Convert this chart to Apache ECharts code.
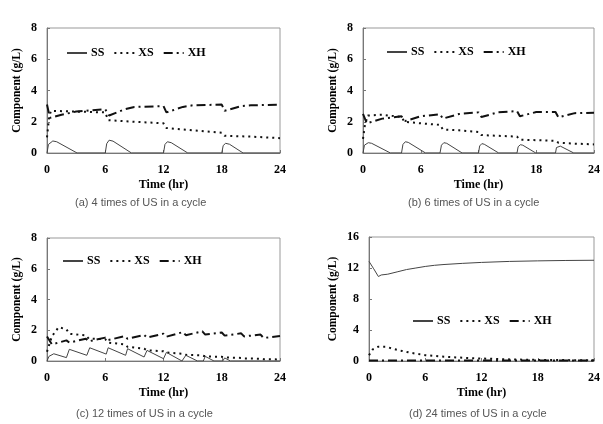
<!DOCTYPE html>
<html>
<head>
<meta charset="utf-8">
<script src="https://cdn.jsdelivr.net/npm/echarts@6/dist/echarts.min.js"></script>
<style>
  html, body { margin: 0; padding: 0; background: #fff; }
  #main { width: 603px; height: 424px; }
</style>
</head>
<body>
<div id="main"></div>
<script>
// 时间轴刻度 (hr)
var timeTicks = [0, 6, 12, 18, 24];
var seriesNames = ['SS', 'XS', 'XH'];
var captions = ['(a) 4 times of US in a cycle', '(b) 6 times of US in a cycle',
                '(c) 12 times of US in a cycle', '(d) 24 times of US in a cycle'];
var yMaxList = [8, 8, 8, 16];
var yStepList = [2, 2, 2, 4];

// (a) 4 times of US
var ssA = [[0,0],[0.15,0.55],[0.6,0.77],[1.0,0.72],[3.1,0],[6,0],[6.15,0.6],[6.4,0.82],[6.8,0.76],[8.7,0],
           [12,0],[12.15,0.55],[12.4,0.72],[12.8,0.66],[14.5,0],[18,0],[18.15,0.48],[18.4,0.62],[18.8,0.56],[20.2,0],[24,0]];
var xsA = [[0,1.0],[0.2,2.2],[0.4,2.7],[3,2.65],[6,2.6],[6.3,2.1],[9,2.0],[12,1.9],[12.3,1.6],
           [15,1.45],[18,1.3],[18.3,1.1],[21,1.05],[24,0.95]];
var xhA = [[0,3.1],[0.3,2.25],[1.5,2.45],[3,2.65],[6,2.8],[6.4,2.4],[8,2.8],[9,2.95],[12,3.0],[12.3,2.6],
           [14,2.95],[15,3.05],[18,3.1],[18.3,2.7],[20,3.0],[21,3.05],[24,3.1]];

// (b) 6 times of US
var ssB = [[0,0],[0.15,0.5],[0.55,0.66],[0.9,0.62],[2.85,0],[4,0],[4.15,0.55],[4.4,0.72],[4.7,0.68],[6.5,0],
           [8,0],[8.15,0.5],[8.4,0.66],[8.7,0.62],[10.3,0],[12,0],[12.12,0.45],[12.35,0.6],[12.6,0.56],[14.1,0],
           [16,0],[16.12,0.4],[16.35,0.53],[16.6,0.5],[17.95,0],[20,0],[20.1,0.35],[20.3,0.47],[20.5,0.44],[21.9,0],[24,0]];
var xsB = [[0,0.9],[0.2,1.8],[0.5,2.4],[2,2.45],[4,2.3],[4.3,2.0],[6,1.9],[8,1.8],[8.3,1.5],[10,1.45],
           [12,1.35],[12.3,1.15],[14,1.1],[16,1.05],[16.3,0.85],[18,0.82],[20,0.78],[20.3,0.66],[22,0.6],[24,0.55]];
var xhB = [[0,2.5],[0.4,1.9],[2,2.2],[4,2.35],[4.4,2.05],[6,2.35],[8,2.48],[8.3,2.2],[10,2.5],[12,2.6],
           [12.3,2.3],[14,2.6],[16,2.68],[16.3,2.35],[18,2.62],[20,2.62],[20.3,2.28],[22,2.55],[24,2.58]];

// (c) 12 times of US
var ssC = [[0,0],[0.2,0.3],[0.7,0.47],[2.0,0.22],[2.3,0.76],[4.1,0.37],[4.4,0.86],[6.1,0.45],[6.3,0.86],
           [8.1,0.37],[8.3,0.8],[10,0.26],[10.3,0.69],[12,0.15],[12.3,0.56],[13.9,0],[14.1,0],[14.3,0.37],
           [15.5,0],[16.1,0],[16.3,0.3],[17.2,0],[18.1,0],[18.3,0.2],[18.9,0],[20.1,0],[20.3,0.12],[20.7,0],
           [22.1,0],[22.3,0.08],[22.6,0],[24,0]];
var xsC = [[0,0.6],[0.5,1.6],[1.2,2.2],[2,2.06],[2.3,1.77],[4,1.67],[4.3,1.45],[6,1.42],[6.3,1.2],[8,1.08],
           [8.3,0.92],[10,0.8],[10.3,0.7],[12,0.63],[12.3,0.55],[14,0.47],[14.3,0.4],[16,0.36],[16.3,0.3],
           [18,0.27],[18.3,0.23],[20,0.2],[20.3,0.17],[22,0.15],[22.3,0.12],[24,0.1]];
var xhC = [[0,1.6],[0.5,1.08],[2,1.34],[2.3,1.2],[4,1.45],[4.3,1.28],[6,1.52],[6.3,1.36],[8,1.62],[8.3,1.45],
           [10,1.7],[10.3,1.52],[12,1.78],[12.3,1.58],[14,1.88],[14.3,1.68],[16,1.93],[16.3,1.72],[18,1.85],
           [18.3,1.65],[20,1.8],[20.3,1.6],[22,1.72],[22.3,1.5],[24,1.62]];

// (d) 24 times of US
var ssD = [[0,12.85],[0.5,11.9],[1.0,10.9],[1.3,11.1],[2,11.2],[2.2,11.4],[3,11.5],[3.2,11.65],[4,11.8],
           [5,12.0],[6,12.2],[7,12.35],[8,12.45],[10,12.6],[12,12.72],[15,12.85],[18,12.92],[21,12.97],[24,13.0]];
var xsD = [[0,0.75],[0.4,1.5],[1,1.85],[1.8,1.85],[2.5,1.6],[3.5,1.3],[4.5,1.05],[6,0.75],[8,0.55],[10,0.42],
           [12,0.32],[14,0.24],[16,0.18],[18,0.14],[20,0.12],[24,0.1]];
var xhD = [[0,0.05],[6,0.05],[12,0.05],[18,0.05],[24,0.05]];

var panelData = [[ssA, xsA, xhA], [ssB, xsB, xhB], [ssC, xsC, xhC], [ssD, xsD, xhD]];

var myChart = echarts.init(document.getElementById('main'));

var serif = '"Liberation Serif", "DejaVu Serif", serif';
// 图区位置
var grids = [
    { left: 47, top: 28, width: 233, height: 125 },
    { left: 363, top: 28, width: 233, height: 125 },
    { left: 47, top: 238, width: 233, height: 123 },
    { left: 369, top: 237, width: 227, height: 124 }
];
var legendPos = [[66, 47], [386, 46], [62, 255], [412, 315]];
var captionPos = [[145, 197], [478, 197], [146, 408], [479, 408]];

var lineStyles = [
    { color: '#444', width: 1, type: 'solid' },
    { color: '#111', width: 2, type: [2, 4] },
    { color: '#111', width: 2, type: [9, 4, 2, 4] }
];

var option = {
    animation: false,
    grid: [], xAxis: [], yAxis: [], series: [], legend: [], graphic: []
};

for (let i = 0; i < 4; i++) {
    option.grid.push(Object.assign({ show: true, borderColor: '#999', borderWidth: 1 }, grids[i]));
    option.xAxis.push({
        type: 'value', gridIndex: i, min: 0, max: 24, interval: 6,
        name: 'Time (hr)', nameLocation: 'middle', nameGap: 26,
        nameTextStyle: { fontFamily: serif, fontWeight: 'bold', fontSize: 12, color: '#000' },
        axisLine: { lineStyle: { color: '#777' } },
        axisTick: { inside: true, length: 3, lineStyle: { color: '#777' } },
        axisLabel: { margin: 11, fontFamily: serif, fontWeight: 'bold', fontSize: 12, color: '#000' },
        splitLine: { show: false }
    });
    option.yAxis.push({
        type: 'value', gridIndex: i, min: 0, max: yMaxList[i], interval: yStepList[i],
        name: 'Component (g/L)', nameLocation: 'middle', nameGap: i == 3 ? 30 : 24,
        nameTextStyle: { fontFamily: serif, fontWeight: 'bold', fontSize: 11.5, color: '#000' },
        axisLine: { show: true, lineStyle: { color: '#777' } },
        axisTick: { show: true, inside: true, length: 3, lineStyle: { color: '#777' } },
        axisLabel: { margin: 10, fontFamily: serif, fontWeight: 'bold', fontSize: 12, color: '#000' },
        splitLine: { show: false }
    });
    for (let k = 0; k < 3; k++) {
        option.series.push({
            name: seriesNames[k], type: 'line', xAxisIndex: i, yAxisIndex: i,
            data: panelData[i][k], symbol: 'none', showSymbol: false,
            lineStyle: lineStyles[k], itemStyle: { color: lineStyles[k].color },
            z: 3 - k
        });
    }
    option.legend.push({
        data: seriesNames, left: legendPos[i][0], top: legendPos[i][1],
        itemWidth: 20, itemHeight: 10, itemGap: 9, padding: 0,
        itemStyle: { color: 'rgba(0,0,0,0)', borderColor: 'rgba(0,0,0,0)', borderWidth: 0 },
        textStyle: { fontFamily: serif, fontWeight: 'bold', fontSize: 12, color: '#000', padding: [0, 0, 0, -1] },
        selectedMode: false
    });
    option.graphic.push({
        type: 'text', left: captionPos[i][0] - 70, top: captionPos[i][1],
        style: { text: captions[i], fontFamily: '"Liberation Sans", Arial, sans-serif', fontSize: 11, fill: '#555',
                 width: 140, align: 'center' }
    });
}

myChart.setOption(option);
</script>
</body>
</html>
